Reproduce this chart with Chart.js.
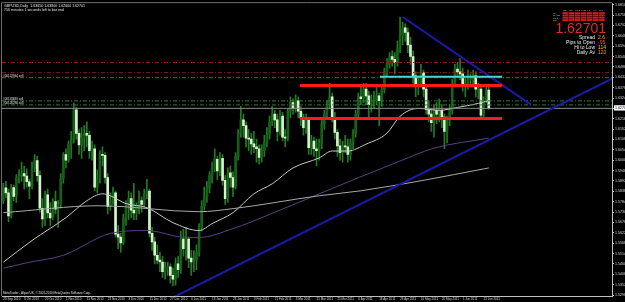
<!DOCTYPE html>
<html>
<head>
<meta charset="utf-8">
<script src="https://cdn.jsdelivr.net/npm/chart.js@4.4.0/dist/chart.umd.min.js"></script>
<style>
html, body { margin: 0; padding: 0; background: #000; }
</style>
</head>
<body>
<canvas id="chart" width="625" height="302"></canvas>
<script>
// GBPUSD daily bars, 28 Sep 2010 .. 15 Jun 2011 (bar index = trading day)
const open = [1.5790,1.5856,1.5830,1.5710,1.5858,1.5812,1.5910,1.5917,1.5930,1.5918,
1.5888,1.5865,1.5962,1.5998,1.5920,1.5750,1.5695,1.5820,1.5725,1.5700,
1.5785,1.5745,1.5770,1.5905,1.6030,1.6000,1.6085,1.6105,1.6262,1.6140,
1.6080,1.6115,1.6140,1.6130,1.6050,1.6060,1.5860,1.5905,1.6030,1.6025,
1.5910,1.5760,1.5790,1.5830,1.5615,1.5600,1.5570,1.5700,1.5770,1.5800,
1.5740,1.5725,1.5765,1.5790,1.5770,1.5825,1.5840,1.5620,1.5575,1.5505,
1.5480,1.5470,1.5420,1.5440,1.5445,1.5400,1.5380,1.5460,1.5430,1.5590,
1.5540,1.5590,1.5490,1.5470,1.5480,1.5520,1.5650,1.5760,1.5810,1.5855,
1.5920,1.5960,1.6005,1.5945,1.6010,1.5895,1.5800,1.5935,1.5910,1.5860,
1.6020,1.6140,1.6210,1.6180,1.6115,1.6110,1.6085,1.6070,1.6060,1.6015,
1.6050,1.6095,1.6135,1.6200,1.6240,1.6210,1.6150,1.6230,1.6120,1.6115,
1.6255,1.6300,1.6270,1.6310,1.6255,1.6220,1.6170,1.6210,1.6065,1.6100,
1.6060,1.6050,1.6090,1.6190,1.6240,1.6290,1.6330,1.6220,1.6145,1.6075,
1.6040,1.6075,1.6070,1.6030,1.6090,1.6140,1.6240,1.6330,1.6320,1.6370,
1.6335,1.6290,1.6310,1.6310,1.6335,1.6310,1.6370,1.6460,1.6500,1.6540,
1.6525,1.6510,1.6580,1.6650,1.6690,1.6665,1.6600,1.6540,1.6440,1.6390,
1.6415,1.6455,1.6370,1.6265,1.6240,1.6195,1.6260,1.6240,1.6260,1.6225,
1.6150,1.6210,1.6260,1.6400,1.6475,1.6460,1.6450,1.6390,1.6400,1.6420,
1.6420,1.6440,1.6370,1.6370,1.6235,1.6310,1.6365];
const high = [1.5880,1.5890,1.5850,1.5875,1.5870,1.5925,1.5950,1.5990,1.5970,1.5955,
1.5900,1.5990,1.6030,1.6020,1.5945,1.5800,1.5840,1.5850,1.5780,1.5800,
1.5840,1.5790,1.5930,1.6040,1.6060,1.6100,1.6150,1.6298,1.6275,1.6160,
1.6170,1.6180,1.6200,1.6150,1.6100,1.6080,1.5950,1.6050,1.6070,1.6040,
1.5930,1.5830,1.5860,1.5840,1.5660,1.5620,1.5720,1.5790,1.5840,1.5830,
1.5880,1.5780,1.5840,1.5810,1.5850,1.5900,1.5850,1.5650,1.5600,1.5560,
1.5520,1.5500,1.5470,1.5470,1.5460,1.5440,1.5490,1.5500,1.5630,1.5640,
1.5650,1.5600,1.5530,1.5530,1.5560,1.5670,1.5790,1.5860,1.5890,1.5940,
1.5990,1.6060,1.6020,1.6040,1.6030,1.5920,1.5960,1.5970,1.5940,1.6040,
1.6160,1.6280,1.6240,1.6200,1.6160,1.6140,1.6150,1.6110,1.6080,1.6080,
1.6130,1.6170,1.6230,1.6280,1.6260,1.6240,1.6260,1.6250,1.6160,1.6270,
1.6330,1.6320,1.6340,1.6330,1.6280,1.6240,1.6240,1.6220,1.6130,1.6120,
1.6110,1.6110,1.6210,1.6260,1.6310,1.6400,1.6350,1.6250,1.6160,1.6110,
1.6100,1.6130,1.6110,1.6110,1.6160,1.6260,1.6350,1.6380,1.6400,1.6400,
1.6360,1.6340,1.6360,1.6380,1.6350,1.6390,1.6480,1.6530,1.6560,1.6570,
1.6560,1.6620,1.6746,1.6720,1.6710,1.6690,1.6640,1.6570,1.6460,1.6440,
1.6500,1.6470,1.6390,1.6310,1.6270,1.6290,1.6300,1.6320,1.6290,1.6240,
1.6230,1.6290,1.6420,1.6500,1.6510,1.6530,1.6480,1.6430,1.6470,1.6450,
1.6470,1.6460,1.6400,1.6390,1.6330,1.6390,1.6380];
const low = [1.5775,1.5805,1.5680,1.5700,1.5790,1.5780,1.5880,1.5890,1.5850,1.5860,
1.5800,1.5850,1.5940,1.5890,1.5730,1.5650,1.5660,1.5700,1.5660,1.5690,
1.5720,1.5650,1.5750,1.5880,1.5960,1.5990,1.6010,1.6090,1.6110,1.6030,
1.6010,1.6050,1.6070,1.6010,1.6000,1.5840,1.5830,1.5880,1.5970,1.5880,
1.5720,1.5740,1.5770,1.5600,1.5540,1.5520,1.5560,1.5660,1.5690,1.5700,
1.5690,1.5690,1.5720,1.5730,1.5760,1.5800,1.5600,1.5530,1.5460,1.5460,
1.5420,1.5390,1.5380,1.5400,1.5360,1.5345,1.5350,1.5390,1.5410,1.5500,
1.5480,1.5440,1.5400,1.5420,1.5430,1.5500,1.5630,1.5740,1.5780,1.5830,
1.5880,1.5940,1.5900,1.5920,1.5870,1.5770,1.5780,1.5860,1.5810,1.5850,
1.6000,1.6120,1.6120,1.6070,1.6050,1.6030,1.6040,1.5990,1.5980,1.5990,
1.6020,1.6070,1.6110,1.6180,1.6170,1.6100,1.6130,1.6100,1.6070,1.6100,
1.6220,1.6240,1.6250,1.6220,1.6180,1.6130,1.6140,1.6030,1.6030,1.6020,
1.5970,1.6000,1.6060,1.6160,1.6220,1.6270,1.6200,1.6110,1.6020,1.6000,
1.5990,1.6040,1.5990,1.6000,1.6060,1.6120,1.6220,1.6290,1.6300,1.6290,
1.6220,1.6250,1.6270,1.6290,1.6180,1.6280,1.6350,1.6440,1.6480,1.6490,
1.6450,1.6490,1.6560,1.6600,1.6620,1.6560,1.6500,1.6400,1.6330,1.6340,
1.6380,1.6330,1.6240,1.6200,1.6150,1.6120,1.6190,1.6200,1.6170,1.6060,
1.6090,1.6180,1.6240,1.6380,1.6430,1.6420,1.6360,1.6330,1.6370,1.6380,
1.6390,1.6330,1.6320,1.6215,1.6220,1.6300,1.6266];
const close = [1.5856,1.5830,1.5710,1.5858,1.5812,1.5910,1.5917,1.5930,1.5918,1.5888,
1.5865,1.5962,1.5998,1.5920,1.5750,1.5695,1.5820,1.5725,1.5700,1.5785,
1.5745,1.5770,1.5905,1.6030,1.6000,1.6085,1.6105,1.6262,1.6140,1.6080,
1.6115,1.6140,1.6130,1.6050,1.6060,1.5860,1.5905,1.6030,1.6025,1.5910,
1.5760,1.5790,1.5830,1.5615,1.5600,1.5570,1.5700,1.5770,1.5800,1.5740,
1.5725,1.5765,1.5790,1.5770,1.5825,1.5840,1.5620,1.5575,1.5505,1.5480,
1.5470,1.5420,1.5440,1.5445,1.5400,1.5380,1.5460,1.5430,1.5590,1.5540,
1.5590,1.5490,1.5470,1.5480,1.5520,1.5650,1.5760,1.5810,1.5855,1.5920,
1.5960,1.6005,1.5945,1.6010,1.5895,1.5800,1.5935,1.5910,1.5860,1.6020,
1.6140,1.6210,1.6180,1.6115,1.6110,1.6085,1.6070,1.6060,1.6015,1.6050,
1.6095,1.6135,1.6200,1.6240,1.6210,1.6150,1.6230,1.6120,1.6115,1.6255,
1.6300,1.6270,1.6310,1.6255,1.6220,1.6170,1.6210,1.6065,1.6100,1.6060,
1.6050,1.6090,1.6190,1.6240,1.6290,1.6330,1.6220,1.6145,1.6075,1.6040,
1.6075,1.6070,1.6030,1.6090,1.6140,1.6240,1.6330,1.6320,1.6370,1.6335,
1.6290,1.6310,1.6310,1.6335,1.6310,1.6370,1.6460,1.6500,1.6540,1.6525,
1.6510,1.6580,1.6650,1.6690,1.6665,1.6600,1.6540,1.6440,1.6390,1.6415,
1.6455,1.6370,1.6265,1.6240,1.6195,1.6260,1.6240,1.6260,1.6225,1.6150,
1.6210,1.6260,1.6400,1.6475,1.6460,1.6450,1.6390,1.6400,1.6420,1.6420,
1.6440,1.6370,1.6370,1.6235,1.6310,1.6365,1.62701];

// moving averages (bar index, price)
const maFastX = [0,11,24,32,38,41,47,55,65,75,80,88,96,103,111,121,126,132,139,147,152,159,167,174,182,186];
const maFastY = [1.5469,1.5582,1.5701,1.5789,1.5825,1.5815,1.5774,1.5753,1.5675,1.5634,1.5670,1.5727,1.5825,1.5877,1.5960,1.6012,1.6048,1.6048,1.6084,1.6141,1.6229,1.6270,1.6260,1.6275,1.6296,1.6311];
const maMidX = [0,10,23,41,55,70,75,88,101,121,152,165,186];
const maMidY = [1.5438,1.5469,1.5505,1.5619,1.5634,1.5598,1.5598,1.5644,1.5712,1.5825,1.5996,1.6063,1.6115];
const maSlowX = [0,37,75,88,121,137,160,186];
const maSlowY = [1.5727,1.5763,1.5732,1.5748,1.5815,1.5841,1.5893,1.5960];

// trend lines and levels
const trendDownX = [153, 202];
const trendDownY = [1.6746, 1.6291];
const trendUpX = [65.4, 233.2];
const trendUpY = [1.5288, 1.6425];
const redLevels = [1.6389, 1.6217];
const redFrom = 113.7, levelTo = 191.1;
const cyanLevel = 1.6435, cyanFrom = 144.3;
const dashRed = [1.6509, 1.6456];
const dashGreen = [1.6430, 1.6309, 1.6288];
const orderLabels = ['#00122944 sell', '#00118489 sell', '#00126280 sell'];
const bid = 1.62701;

// axis ticks
const xTickIdx = [0,8,16,24,32,40,48,56,64,72,80,88,96,104,112,120,128,136,144,152,160,168,176,184];
const xTickLabels = ['28 Sep 2010','8 Oct 2010','20 Oct 2010','1 Nov 2010','11 Nov 2010','23 Nov 2010','3 Dec 2010','15 Dec 2010','27 Dec 2010','6 Jan 2011','18 Jan 2011','28 Jan 2011','9 Feb 2011','21 Feb 2011','3 Mar 2011','15 Mar 2011','25 Mar 2011','6 Apr 2011','18 Apr 2011','28 Apr 2011','10 May 2011','20 May 2011','1 Jun 2011','13 Jun 2011'];
const yTickValues = [1.6810,1.6756,1.6702,1.6648,1.6594,1.6540,1.6486,1.6432,1.6378,1.6324,1.62701,1.6216,1.6162,1.6108,1.6054,1.6000,1.5946,1.5892,1.5838,1.5784,1.5730,1.5676,1.5622,1.5568,1.5514,1.5460,1.5406,1.5352,1.5298];
const yTickLabels = ['1.68100','1.67560','1.67020','1.66480','1.65940','1.65400','1.64860','1.64320','1.63780','1.63240','1.62701','1.62160','1.61620','1.61080','1.60540','1.60000','1.59460','1.58920','1.58380','1.57840','1.57300','1.56760','1.56220','1.55680','1.55140','1.54600','1.54060','1.53520','1.52980'];

const xMin = -0.5, xMax = 233.2;
const isBull = i => close[i] >= open[i];

function pts(xs, ys) { return xs.map((x, i) => ({ x: x, y: ys[i] })); }
function hline(v, a, b) { return [{ x: a, y: v }, { x: b, y: v }]; }
function lineSet(data, color, width, order, dash) {
    return { type: 'line', data: data, borderColor: color, borderWidth: width, borderDash: dash || [],
             pointRadius: 0, fill: false, order: order };
}

const datasets = [
    { type: 'bar', data: open.map((o, i) => ({ x: i, y: [low[i], high[i]] })),
      backgroundColor: '#237a23', barThickness: 1, grouped: false, order: 6 },
    { type: 'bar', data: open.map((o, i) => ({ x: i, y: [open[i], close[i]] })),
      backgroundColor: c => isBull(c.dataIndex) ? '#17601a' : '#d4f5cc',
      barThickness: 2, minBarLength: 1, grouped: false, order: 5 },
    Object.assign(lineSet(pts(maSlowX, maSlowY), '#a8a8a8', 1, 4), { cubicInterpolationMode: 'monotone' }),
    Object.assign(lineSet(pts(maMidX, maMidY), '#5c3f80', 1, 4), { cubicInterpolationMode: 'monotone' }),
    Object.assign(lineSet(pts(maFastX, maFastY), '#c8c8c8', 1, 4), { cubicInterpolationMode: 'monotone' }),
    lineSet(hline(bid, xMin, xMax), '#8a8a8a', 1, 3),
    lineSet(hline(dashRed[0], xMin, xMax), '#8b1a1a', 1, 3, [4, 2, 1, 2]),
    lineSet(hline(dashRed[1], xMin, xMax), '#8b1a1a', 1, 3, [4, 2, 1, 2]),
    lineSet(hline(dashGreen[0], xMin, xMax), '#2f7a3a', 1, 3, [4, 2, 1, 2]),
    lineSet(hline(dashGreen[1], xMin, xMax), '#2f7a3a', 1, 3, [4, 2, 1, 2]),
    lineSet(hline(dashGreen[2], xMin, xMax), '#2f7a3a', 1, 3, [4, 2, 1, 2]),
    lineSet(hline(redLevels[0], redFrom, levelTo), '#ff1a1a', 3, 1),
    lineSet(hline(redLevels[1], redFrom, levelTo), '#ff1a1a', 3, 1),
    lineSet(hline(cyanLevel, cyanFrom, levelTo), '#3fd8d0', 2, 1),
    lineSet(pts(trendDownX, trendDownY), '#1a1ab0', 2, 1),
    lineSet(pts(trendUpX, trendUpY), '#1a1ab0', 2, 1)
];

// texts of the terminal window
const overlay = {
    id: 'overlay',
    afterDraw(chart) {
        const ctx = chart.ctx, area = chart.chartArea, ys = chart.scales.y;
        ctx.save();
        ctx.strokeStyle = '#707070';
        ctx.lineWidth = 1;
        ctx.beginPath();
        ctx.moveTo(area.left - 0.5, area.bottom);
        ctx.lineTo(area.left - 0.5, area.top - 0.5);
        ctx.lineTo(area.right, area.top - 0.5);
        ctx.stroke();

        ctx.fillStyle = '#e0e0e0';
        ctx.textBaseline = 'alphabetic';
        ctx.font = '3.6px "Liberation Sans"';
        ctx.fillText('GBPUSD,Daily  1.63650 1.63800 1.62660 1.62701', 4, 7);
        ctx.fillText('756 minutes 1 seconds left to bar end', 4, 11);
        ctx.font = '3px "Liberation Sans"';
        ctx.fillText('MetaTrader - Alpari UK, \u00a9 2001-2010 MetaQuotes Software Corp.', 3, 294);
        dashGreen.forEach((v, i) => ctx.fillText(orderLabels[i], 3, ys.getPixelForValue(v) - 1));

        // signal panel
        const cols = ['M1', 'M5', 'M15', 'M30', 'H1', 'H4', 'D1'];
        const rows = ['MA', 'MACD', 'STO', 'RSI'];
        ctx.font = '2.5px "Liberation Sans"';
        ctx.fillStyle = '#bbbbbb';
        cols.forEach((c, j) => ctx.fillText(c, 563 + j * 6.1, 11));
        rows.forEach((r, k) => ctx.fillText(r, 553, 14 + k * 2.3));
        ctx.fillStyle = '#d41818';
        rows.forEach((r, k) => cols.forEach((c, j) => ctx.fillRect(562.5 + j * 6.1, 12.2 + k * 2.3, 5.6, 1.9)));

        ctx.textAlign = 'right';
        ctx.fillStyle = '#e8262a';
        ctx.font = '14px "Liberation Sans"';
        ctx.fillText('1.62701', 606, 33);
        ctx.font = '5px "Liberation Sans"';
        const info = [['Spread', '2.6', '#ff9a1a'], ['Pips to Open', '-95', '#ff5a1a'], ['Hi to Low', '114', '#ffc21a'], ['Daily Av', '120', '#ff9a1a']];
        info.forEach((r, k) => {
            ctx.textAlign = 'right';
            ctx.fillStyle = '#e8e8e8';
            ctx.fillText(r[0], 595, 38.5 + k * 5);
            ctx.textAlign = 'left';
            ctx.fillStyle = r[2];
            ctx.fillText(r[1], 598, 38.5 + k * 5);
        });
        ctx.restore();
    }
};

const ctx = document.getElementById('chart').getContext('2d');
new Chart(ctx, {
    type: 'bar',
    data: { datasets: datasets },
    plugins: [overlay],
    options: {
        responsive: false,
        animation: false,
        layout: { padding: { left: 2, top: 1, right: 0, bottom: 0 } },
        plugins: { legend: { display: false }, tooltip: { enabled: false } },
        scales: {
            x: {
                type: 'linear', min: xMin, max: xMax, offset: false,
                grid: { drawOnChartArea: false, drawTicks: true, tickLength: 1, color: '#c0c0c0' },
                border: { color: '#c0c0c0' },
                ticks: { color: '#d8d8d8', font: { size: 3, family: 'Liberation Sans' }, padding: 0,
                         align: 'start', autoSkip: false, maxRotation: 0, minRotation: 0,
                         callback: (v, i) => xTickLabels[i] },
                afterBuildTicks: s => { s.ticks = xTickIdx.map(v => ({ value: v })); },
                afterFit: s => { s.height = 6; }
            },
            y: {
                position: 'right', min: 1.5293, max: 1.6818,
                grid: { drawOnChartArea: false, drawTicks: true, tickLength: 2, color: '#c0c0c0' },
                border: { color: '#c0c0c0' },
                ticks: { font: { size: 3.6, family: 'Liberation Sans' }, padding: 1,
                         color: c => c.tick && c.tick.value === bid ? '#000' : '#d8d8d8',
                         showLabelBackdrop: true,
                         backdropColor: c => c.tick && c.tick.value === bid ? '#ffffff' : 'rgba(0,0,0,0)',
                         backdropPadding: { top: 1, bottom: 0, left: 1, right: 4 },
                         callback: (v, i) => yTickLabels[i] },
                afterBuildTicks: s => { s.ticks = yTickValues.map(v => ({ value: v })); },
                afterFit: s => { s.height = undefined; s.width = 13; }
            }
        }
    }
});
</script>
</body>
</html>
